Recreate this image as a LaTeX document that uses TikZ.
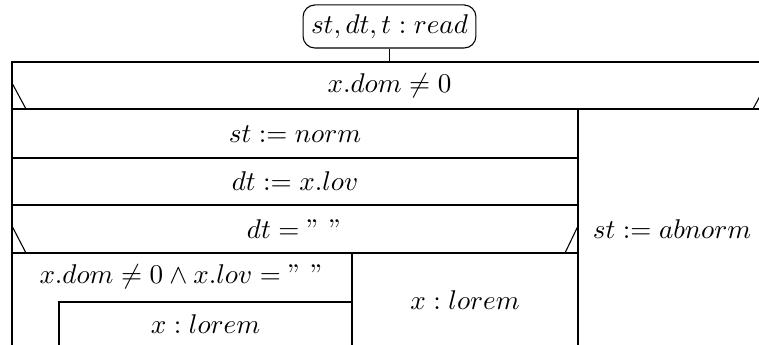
\documentclass[tikz,border=0pt]{standalone}
\begin{document}
\begin{tikzpicture}[x=0.369pt,y=-0.369pt, line width=0.4pt,
  txt/.style={inner sep=0pt, anchor=center},
  termbox/.style={draw, rounded corners=4.4pt, minimum width=63.8pt, minimum height=15.9pt, inner sep=0pt}]
\useasboundingbox (0,0) rectangle (759,345);
\clip (0,0) rectangle (759,345);
\node[termbox] (read) at (389.5,26.5) {$st, dt, t : read$};
\coordinate (ftop) at (389.5,62);
\draw (read.south) -- (ftop);
% frame and structure
\draw (12,352) -- (12,62) -- (767,62) -- (767,352);
\draw (12,109) -- (767,109);
\draw (12,83) -- (26,109);
\draw (767,83) -- (753,109);
\draw (578,109) -- (578,352);
\draw (12,158) -- (578,158);
\draw (12,205) -- (578,205);
\draw (12,253) -- (578,253);
\draw (12,226) -- (26,253);
\draw (578,226) -- (565,253);
\draw (352,253) -- (352,352);
\draw (59,352) -- (59,302) -- (352,302);
% texts
\node[txt] (c1) at (389.5,85.5) {$x.dom \neq 0$};
\node[txt] (s1) at (295,134) {$st := norm$};
\node[txt] (s2) at (295,181.5) {$dt := x.lov$};
\node[txt] (c2) at (295,229) {$dt = "\ "$};
\node[txt] (s3) at (672,229) {$st := abnorm$};
\node[txt] (c3) at (182,277) {$x.dom \neq 0 \wedge x.lov = "\ "$};
\node[txt] (s4) at (205.5,324) {$x : lorem$};
\node[txt] (s5) at (465,300) {$x : lorem$};
\end{tikzpicture}
\end{document}
